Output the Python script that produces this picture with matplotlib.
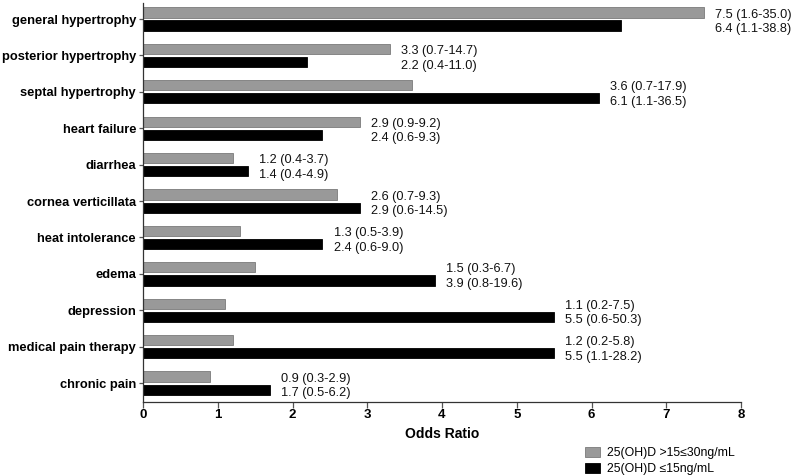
import matplotlib
matplotlib.use("Agg")
import matplotlib.pyplot as plt
import numpy as np

plt.rcParams['font.family'] = ['Liberation Sans', 'DejaVu Sans']

categories = ["general hypertrophy", "posterior hypertrophy", "septal hypertrophy",
              "heart failure", "diarrhea", "cornea verticillata", "heat intolerance",
              "edema", "depression", "medical pain therapy", "chronic pain"]
gray_vals = [7.5, 3.3, 3.6, 2.9, 1.2, 2.6, 1.3, 1.5, 1.1, 1.2, 0.9]
black_vals = [6.4, 2.2, 6.1, 2.4, 1.4, 2.9, 2.4, 3.9, 5.5, 5.5, 1.7]
gray_ci = ["1.6-35.0", "0.7-14.7", "0.7-17.9", "0.9-9.2", "0.4-3.7", "0.7-9.3",
           "0.5-3.9", "0.3-6.7", "0.2-7.5", "0.2-5.8", "0.3-2.9"]
black_ci = ["1.1-38.8", "0.4-11.0", "1.1-36.5", "0.6-9.3", "0.4-4.9", "0.6-14.5",
            "0.6-9.0", "0.8-19.6", "0.6-50.3", "1.1-28.2", "0.5-6.2"]
legend_labels = ["25(OH)D >15\u226430ng/mL", "25(OH)D \u226415ng/mL"]
xticks = [0, 1, 2, 3, 4, 5, 6, 7, 8]

fig = plt.figure(figsize=(7.96, 4.76), dpi=100)
ax = fig.add_axes([143/796, 1-402/476, (741-143)/796, (402-3)/476])

y = np.arange(len(categories))
h = 0.28
off = 0.18
gb = ax.barh(y - off, gray_vals, height=h, color="#999999", edgecolor="#7a7a7a", linewidth=0.6,
             label=legend_labels[0])
bb = ax.barh(y + off, black_vals, height=h, color="#000000", edgecolor="#000000", linewidth=0.6,
             label=legend_labels[1])

for i in range(len(categories)):
    xm = max(gray_vals[i], black_vals[i]) + 0.15
    ax.text(xm, y[i] - off + 0.06, f"{gray_vals[i]:.1f} ({gray_ci[i]})", va="center", ha="left",
            fontsize=9.2, color="#111111")
    ax.text(xm, y[i] + off + 0.1, f"{black_vals[i]:.1f} ({black_ci[i]})", va="center", ha="left",
            fontsize=9.2, color="#111111")

ax.set_ylim(len(categories) - 1 + 0.52, -0.44)
ax.set_xlim(0, 8)
ax.set_xticks(xticks)
ax.set_xticklabels([str(t) for t in xticks], fontweight="bold", fontsize=9.5)
ax.set_yticks(y)
ax.set_yticklabels(categories, fontweight="bold", fontsize=9.3)
ax.spines['top'].set_visible(False)
ax.spines['right'].set_visible(False)
for s in ['left', 'bottom']:
    ax.spines[s].set_color("#333333")
    ax.spines[s].set_linewidth(0.9)
ax.tick_params(axis='x', length=4, width=0.9, color="#555555", pad=1)
ax.tick_params(axis='y', length=3, width=0.9, color="#555555", pad=2)
ax.set_xlabel("Odds Ratio", fontweight="bold", fontsize=10, labelpad=4)

fig.legend(handles=[gb, bb], labels=legend_labels, loc="lower left",
           bbox_to_anchor=(578/796, -0.014), frameon=False, fontsize=8.8,
           handlelength=1.2, handleheight=0.9, handletextpad=0.6, labelspacing=0.3,
           borderaxespad=0.2)

fig.savefig("out.png", dpi=100)
